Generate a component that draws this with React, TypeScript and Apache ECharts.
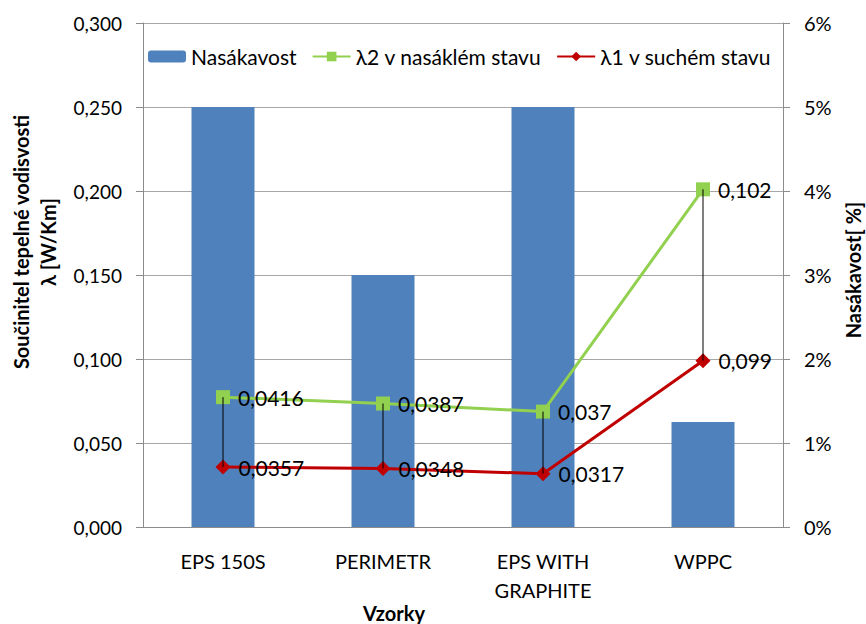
import React, { useEffect, useRef } from "react";
import * as echarts from "echarts";

const categories = ["EPS 150S", "PERIMETR", "EPS WITH\nGRAPHITE", "WPPC"];
const nasakavost = [0.05, 0.03, 0.05, 0.0125];
const lambdaDry = [0.0357, 0.0348, 0.0317, 0.099];
const lambdaWet = [0.0416, 0.0387, 0.037, 0.102];
const leftTicks = { min: 0, max: 0.3, interval: 0.05 };
const rightTicks = { min: 0, max: 0.06, interval: 0.01 };

const FONT = "Lato, 'Open Sans', sans-serif";
const comma = (v: number) => String(v).replace(".", ",");

export default function App() {
  const ref = useRef<HTMLDivElement>(null);
  useEffect(() => {
    const chart = echarts.init(ref.current!, null, { renderer: "svg" });
    const dropData = categories.map((_, i) => [i, lambdaDry[i], lambdaDry[i] + lambdaWet[i]]);
    const titleStyle = {
      fontSize: 20,
      fontWeight: "bold",
      fontFamily: FONT,
      fill: "#000",
      align: "center",
      verticalAlign: "middle",
    };
    const labelCfg = {
      show: true,
      position: "right",
      distance: 8,
      fontSize: 21,
      color: "#000",
      fontFamily: FONT,
      formatter: (p: any) => comma(p.value),
    };
    chart.setOption({
      animation: false,
      textStyle: { fontFamily: FONT },
      grid: { left: 143, right: 83, top: 23, bottom: 97 },
      legend: {
        left: 143,
        top: 41,
        itemWidth: 38,
        itemHeight: 12,
        itemGap: 15,
        data: ["Nasákavost", "λ2 v nasáklém stavu", "λ1 v suchém stavu"],
        textStyle: { fontSize: 21, color: "#000", fontFamily: FONT },
      },
      xAxis: {
        type: "category",
        data: categories,
        axisLine: { lineStyle: { color: "#8c8c8c" } },
        axisTick: { length: 7, lineStyle: { color: "#8c8c8c" } },
        axisLabel: { fontSize: 20, color: "#000", margin: 19, lineHeight: 29, fontFamily: FONT },
      },
      yAxis: [
        {
          type: "value",
          ...leftTicks,
          axisLine: { show: true, lineStyle: { color: "#8c8c8c" } },
          axisTick: { show: true, length: 7, lineStyle: { color: "#8c8c8c" } },
          splitLine: { lineStyle: { color: "#a6a6a6" } },
          axisLabel: {
            fontSize: 19,
            color: "#000",
            margin: 21,
            fontFamily: FONT,
            formatter: (v: number) => v.toFixed(3).replace(".", ","),
          },
        },
        {
          type: "value",
          ...rightTicks,
          position: "right",
          axisLine: { show: true, lineStyle: { color: "#8c8c8c" } },
          axisTick: { show: true, length: 7, lineStyle: { color: "#8c8c8c" } },
          splitLine: { show: false },
          axisLabel: {
            fontSize: 20,
            color: "#000",
            margin: 21,
            fontFamily: FONT,
            formatter: (v: number) => Math.round(v * 100) + "%",
          },
        },
      ],
      series: [
        {
          name: "Nasákavost",
          type: "bar",
          yAxisIndex: 1,
          data: nasakavost,
          barWidth: 63,
          itemStyle: { color: "#4F81BD" },
        },
        {
          name: "λ1 v suchém stavu",
          type: "line",
          stack: "lambda",
          data: lambdaDry,
          symbol: "diamond",
          symbolSize: 15,
          color: "#C00000",
          lineStyle: { width: 3, color: "#C00000" },
          itemStyle: { color: "#C00000" },
          label: labelCfg,
          z: 3,
        },
        {
          name: "λ2 v nasáklém stavu",
          type: "line",
          stack: "lambda",
          data: lambdaWet,
          symbol: "rect",
          symbolSize: 14,
          color: "#92D050",
          lineStyle: { width: 3, color: "#92D050" },
          itemStyle: { color: "#92D050" },
          label: labelCfg,
          z: 3,
        },
        {
          type: "custom",
          data: dropData,
          z: 4,
          silent: true,
          renderItem: (params: any, api: any) => {
            const a = api.coord([api.value(0), api.value(1)]);
            const b = api.coord([api.value(0), api.value(2)]);
            return {
              type: "line",
              shape: { x1: a[0], y1: a[1], x2: b[0], y2: b[1] },
              style: { stroke: "#000", lineWidth: 1 },
            };
          },
        },
      ],
      graphic: [
        { type: "text", x: 21, y: 242, rotation: Math.PI / 2, style: { ...titleStyle, text: "Součinitel tepelné vodisvosti" } },
        { type: "text", x: 48, y: 242, rotation: Math.PI / 2, style: { ...titleStyle, text: "λ [W/Km]" } },
        { type: "text", x: 853, y: 270, rotation: Math.PI / 2, style: { ...titleStyle, text: "Nasákavost[ %]" } },
        { type: "text", x: 394, y: 613, style: { ...titleStyle, text: "Vzorky" } },
      ],
    });
    return () => chart.dispose();
  }, []);
  return <div ref={ref} style={{ width: 866, height: 624, position: "absolute", left: 0, top: 0 }} />;
}
